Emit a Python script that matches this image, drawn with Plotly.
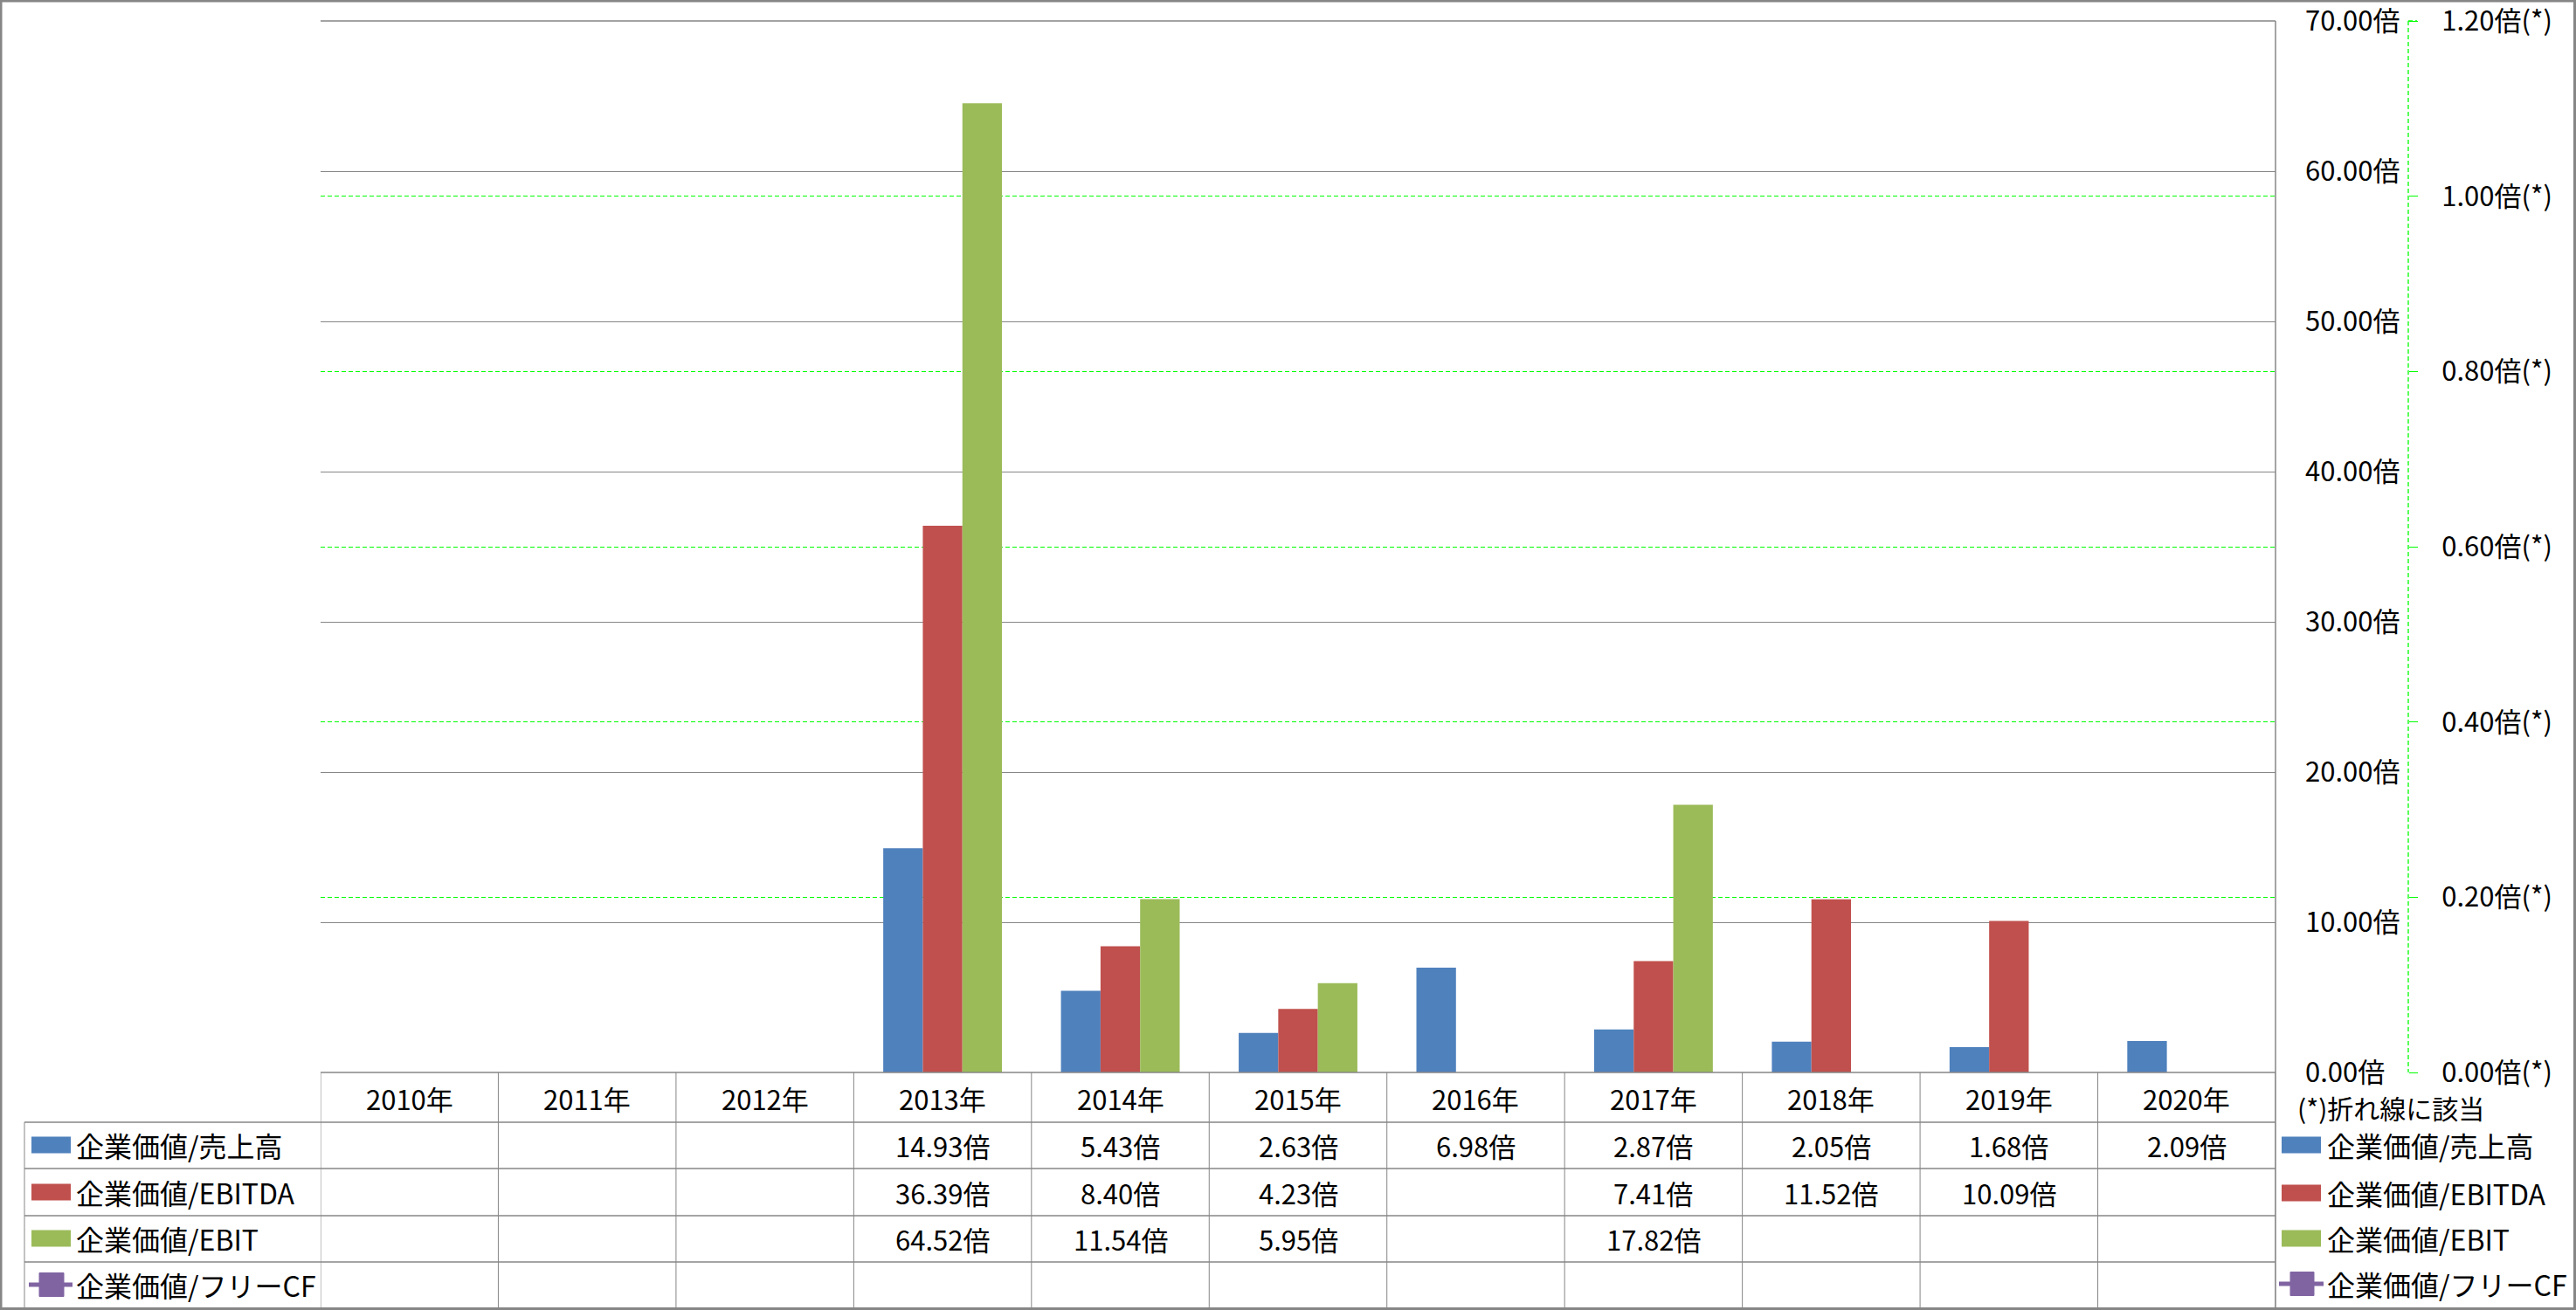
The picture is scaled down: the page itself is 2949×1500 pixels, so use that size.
import plotly.graph_objects as go

# ---------------- data ----------------
years = ["2010年", "2011年", "2012年", "2013年", "2014年", "2015年",
         "2016年", "2017年", "2018年", "2019年", "2020年"]
ev_sales = [None, None, None, 14.93, 5.43, 2.63, 6.98, 2.87, 2.05, 1.68, 2.09]
ev_ebitda = [None, None, None, 36.39, 8.40, 4.23, None, 7.41, 11.52, 10.09, None]
ev_ebit = [None, None, None, 64.52, 11.54, 5.95, None, 17.82, None, None, None]
ev_fcf = [None, None, None, None, None, None, None, None, None, None, None]
series_names = ["企業価値/売上高", "企業価値/EBITDA", "企業価値/EBIT", "企業価値/フリーCF"]
colors = ["#4F81BD", "#C0504D", "#9BBB59", "#8064A2"]
y1_ticks = [0, 10, 20, 30, 40, 50, 60, 70]
y2_ticks = [0, 0.2, 0.4, 0.6, 0.8, 1.0, 1.2]
note_text = "(*)折れ線に該当"

# ---------------- layout geometry (pixels) ----------------
W, H = 2949, 1500
PL, PR, PT, PB = 367, 2605, 24, 1228
Y2X = 2757
FONT = "Noto Sans CJK JP"
GRID = "#868686"
LIME = "#00FF00"
DASH = "5px,3px"


def fx(x):
    return x / W


def fy(y):
    return 1 - y / H


fig = go.Figure()
bar_series = [ev_sales, ev_ebitda, ev_ebit]
for name, vals, col in zip(series_names[:3], bar_series, colors[:3]):
    fig.add_trace(go.Bar(x=years, y=vals, name=name, marker=dict(color=col, line=dict(width=0)),
                         showlegend=False))
fig.add_trace(go.Scatter(x=years, y=ev_fcf, name=series_names[3], yaxis="y2",
                         mode="lines+markers", line=dict(color=colors[3], width=4),
                         marker=dict(symbol="square", size=14, color=colors[3]),
                         showlegend=False))

shapes = []
annotations = []

row_lines = [1285, 1338, 1392, 1445, 1498]
row_centers = [1311, 1365, 1418, 1471]
header_center = 1257

# top gridline (70) - plotly drops grid lines that sit on the plot edge
shapes.append(dict(type="line", xref="paper", yref="paper", x0=fx(PL), x1=fx(PR),
                   y0=fy(PT), y1=fy(PT), line=dict(color=GRID, width=1.5)))
shapes.append(dict(type="line", xref="paper", yref="paper", x0=fx(Y2X), x1=fx(Y2X + 10),
                   y0=fy(PT), y1=fy(PT), line=dict(color=LIME, width=1.3, dash=DASH)))

# horizontal table lines
shapes.append(dict(type="line", xref="paper", yref="paper", x0=fx(PL), x1=fx(PR),
                   y0=fy(PB), y1=fy(PB), line=dict(color=GRID, width=1.5)))
for yy in row_lines:
    shapes.append(dict(type="line", xref="paper", yref="paper", x0=fx(28), x1=fx(PR),
                       y0=fy(yy), y1=fy(yy), line=dict(color=GRID, width=1.5)))
for i in range(len(years) + 1):
    shapes.append(dict(type="line", xref="x", yref="paper", x0=i - 0.5, x1=i - 0.5,
                       y0=fy(PB), y1=fy(1498), line=dict(color=GRID, width=1)))
shapes.append(dict(type="line", xref="paper", yref="paper", x0=fx(28), x1=fx(28),
                   y0=fy(1285), y1=fy(1498), line=dict(color=GRID, width=1)))
shapes.append(dict(type="line", xref="paper", yref="paper", x0=fx(PR), x1=fx(PR),
                   y0=fy(PT), y1=fy(1498), line=dict(color=GRID, width=1.5)))
shapes.append(dict(type="line", xref="paper", yref="paper", x0=fx(Y2X), x1=fx(Y2X),
                   y0=fy(PT), y1=fy(PB), line=dict(color=LIME, width=1.3, dash=DASH)))
shapes.append(dict(type="rect", xref="paper", yref="paper", x0=fx(1), x1=fx(2947.5),
                   y0=fy(1), y1=fy(1498.5), line=dict(color=GRID, width=3)))

for yr in years:
    annotations.append(dict(x=yr, xref="x", y=fy(header_center), yref="paper", text=yr,
                            showarrow=False, font=dict(family=FONT, size=31, color="black"),
                            xanchor="center", yanchor="middle"))
all_series = [ev_sales, ev_ebitda, ev_ebit, ev_fcf]
for r, vals in enumerate(all_series):
    for yr, v in zip(years, vals):
        if v is None:
            continue
        annotations.append(dict(x=yr, xref="x", y=fy(row_centers[r]), yref="paper",
                                text=f"{v:.2f}倍", showarrow=False,
                                font=dict(family=FONT, size=31, color="black"),
                                xanchor="center", yanchor="middle"))


def legend_block(key_x0, text_x, centers, purple_line, purple_rect):
    for r in range(4):
        yc = centers[r]
        if r < 3:
            shapes.append(dict(type="rect", xref="paper", yref="paper",
                               x0=fx(key_x0), x1=fx(key_x0 + 45),
                               y0=fy(yc - 9.5), y1=fy(yc + 9.5),
                               fillcolor=colors[r], line=dict(width=0)))
        else:
            shapes.append(dict(type="line", xref="paper", yref="paper",
                               x0=fx(purple_line[0]), x1=fx(purple_line[1]),
                               y0=fy(yc), y1=fy(yc), line=dict(color=colors[3], width=5)))
            shapes.append(dict(type="rect", xref="paper", yref="paper",
                               x0=fx(purple_rect[0]), x1=fx(purple_rect[1]),
                               y0=fy(yc - 13.5), y1=fy(yc + 13.5),
                               fillcolor=colors[3], line=dict(color=colors[3], width=1)))
        annotations.append(dict(x=fx(text_x), xref="paper", y=fy(yc), yref="paper",
                                text=series_names[r], showarrow=False,
                                font=dict(family=FONT, size=32, color="black"),
                                xanchor="left", yanchor="middle"))


legend_block(36, 85, [1311, 1365, 1418, 1471], (33, 83), (45, 73))
legend_block(2612, 2662, [1311, 1366, 1418, 1470], (2609, 2660), (2622, 2649))

annotations.append(dict(x=fx(2628), xref="paper", y=fy(1268), yref="paper", text=note_text,
                        showarrow=False, font=dict(family=FONT, size=30, color="black"),
                        xanchor="left", yanchor="middle"))

fig.update_layout(
    width=W, height=H, autosize=False,
    margin=dict(l=0, r=0, t=0, b=0, pad=0, autoexpand=False),
    showlegend=False,
    paper_bgcolor="white", plot_bgcolor="white",
    barmode="group", bargap=0.332, bargroupgap=0,
    font=dict(family=FONT, size=30, color="black"),
    xaxis=dict(domain=[fx(PL), fx(PR)], range=[-0.5, len(years) - 0.5],
               showticklabels=False, showgrid=False, zeroline=False, showline=False,
               type="category", automargin=False),
    yaxis=dict(domain=[fy(PB), fy(PT)], range=[0, 70.0001], side="right", anchor="x",
               tickvals=y1_ticks, ticktext=[f"{v:.2f}倍" for v in y1_ticks],
               showgrid=True, gridcolor=GRID, gridwidth=1, zeroline=False,
               showline=False, ticks="", ticklabelstandoff=33, automargin=False,
               ticklabeloverflow="allow",
               tickfont=dict(family=FONT, size=31, color="black")),
    yaxis2=dict(domain=[fy(PB), fy(PT)], range=[0, 1.200001], overlaying="y", side="right",
                anchor="free", position=fx(Y2X), automargin=False,
                tickvals=y2_ticks, ticktext=[f"{v:.2f}倍(*)" for v in y2_ticks],
                showgrid=True, gridcolor=LIME, gridwidth=1.3, griddash=DASH,
                zeroline=False, showline=False, ticks="outside", ticklen=10,
                tickcolor=LIME, tickwidth=1, ticklabelstandoff=21,
                ticklabeloverflow="allow",
                tickfont=dict(family=FONT, size=31, color="black")),
    shapes=shapes, annotations=annotations,
)

post = ("document.documentElement.style.margin='0';document.documentElement.style.padding='0';"
        "document.body.style.margin='0';document.body.style.padding='0';"
        "document.documentElement.style.overflow='hidden';document.body.style.overflow='hidden';")
fig.write_html("out.html", config={"displayModeBar": False}, post_script=post)
